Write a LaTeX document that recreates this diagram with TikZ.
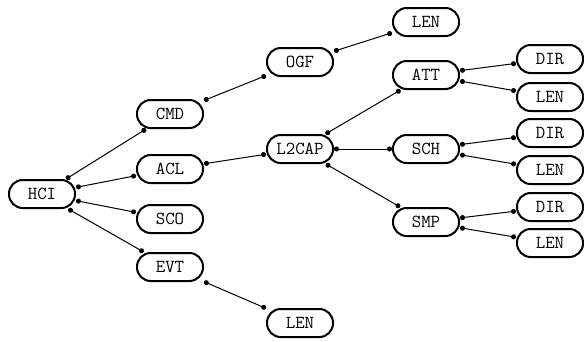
\documentclass[tikz,border=0pt]{standalone}
\usepackage{fontspec}
\usetikzlibrary{arrows.meta}

\tikzset{
  field/.style={draw, line width=1.2pt, rounded corners=8.2pt, minimum width=39.6pt,
                minimum height=16.8pt, inner sep=2pt, font=\fontsize{11}{13}\selectfont\ttfamily},
  link/.style={line width=0.6pt, {Circle[length=3pt]}-{Circle[length=3pt]}},
}

\begin{document}
\begin{tikzpicture}[x=0.6pt,y=-0.6pt]
	  \useasboundingbox (0,0) rectangle (584,341);   % page

	  \node[field] (hci) at (42,194) {HCI};   % root

	  \node[field] (cmd) at (170,114) {CMD};
	  \node[field] (acl) at (170,169) {ACL};
	  \node[field] (sco) at (170,219) {SCO};
	  \node[field] (evt) at (170,267) {EVT};

	  \node[field] (ogf)   at (300,62)  {OGF};
	  \node[field] (l2cap) at (300,149) {L2CAP};
	  \node[field] (evtlen) at (300,323) {LEN};

	  \node[field] (ogflen) at (426,22)  {LEN};
	  \node[field] (att)    at (426,75)  {ATT};
	  \node[field] (sch)    at (426,149) {SCH};
	  \node[field] (smp)    at (426,222) {SMP};

	  \node[field] (attdir) at (550,59)  {DIR};
	  \node[field] (attlen) at (550,97)  {LEN};
	  \node[field] (schdir) at (550,133) {DIR};
	  \node[field] (schlen) at (550,170) {LEN};
	  \node[field] (smpdir) at (550,207) {DIR};
	  \node[field] (smplen) at (550,243) {LEN};

	  % links
	  \draw[link] (hci) -- (cmd);
	  \draw[link] (hci) -- (acl);
	  \draw[link] (hci) -- (sco);
	  \draw[link] (hci) -- (evt);

	  \draw[link] (cmd) -- (ogf);
	  \draw[link] (ogf) -- (ogflen);
	  \draw[link] (acl) -- (l2cap);
	  \draw[link] (evt) -- (evtlen);

	  \draw[link] (l2cap) -- (att);
	  \draw[link] (l2cap) -- (sch);
	  \draw[link] (l2cap) -- (smp);

	  \draw[link] (att) -- (attdir);
	  \draw[link] (att) -- (attlen);
	  \draw[link] (sch) -- (schdir);
	  \draw[link] (sch) -- (schlen);
	  \draw[link] (smp) -- (smpdir);
	  \draw[link] (smp) -- (smplen);
	\end{tikzpicture}
\end{document}
